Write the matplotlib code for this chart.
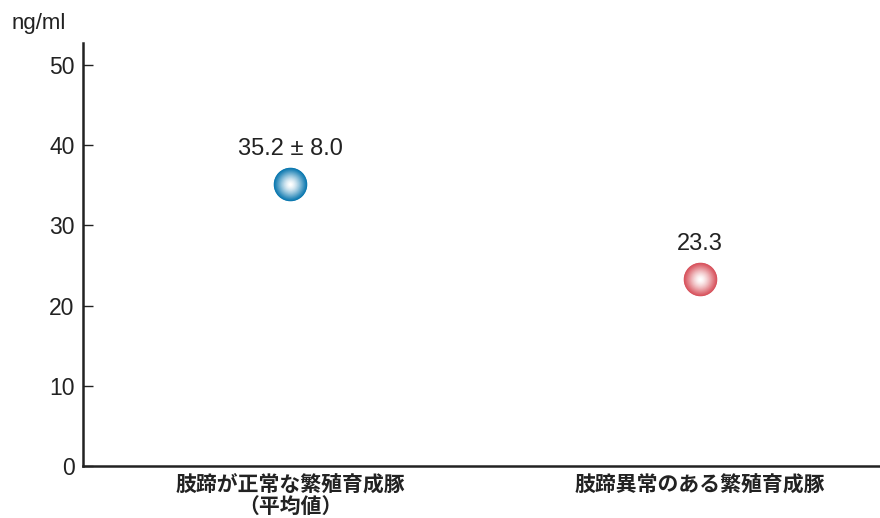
import matplotlib.pyplot as plt
import numpy as np
from matplotlib.colors import to_rgb

plt.rcParams['font.family'] = ['Liberation Sans', 'Noto Sans CJK JP', 'DejaVu Sans']

# データ
groups = ["肢蹄が正常な繁殖育成豚\n（平均値）", "肢蹄異常のある繁殖育成豚"]
values = [35.2, 23.3]
labels = ["35.2 ± 8.0", "23.3"]
edge_colors = ["#0a78b0", "#d8525c"]
yticks = [0, 10, 20, 30, 40, 50]

fig, ax = plt.subplots(figsize=(8.8, 5.18), dpi=100)
fig.subplots_adjust(left=0.094, right=0.999, bottom=0.10, top=0.917)

x = np.arange(len(groups))

# 球状のマーカー（同心円でグラデーション）
n = 30
for xi, v, c in zip(x, values, edge_colors):
    base = np.array(to_rgb(c))
    for k in range(n):
        t = k / (n - 1)
        size = 580 * (1 - t) ** 1.2 + 4
        col = base + (1 - base) * t ** 1.3
        ax.scatter(xi, v, s=size, color=col, linewidths=0, zorder=3 + k)

for xi, v, lab in zip(x, values, labels):
    ax.annotate(lab, (xi, v), xytext=(0, 25), textcoords='offset points',
                ha='center', va='center', fontsize=17, color='#222222')

ax.set_xlim(-0.507, 1.437)
ax.set_ylim(0, 52.7)
ax.set_yticks(yticks)
ax.set_xticks(x)
ax.set_xticklabels(groups, fontsize=15, fontweight='bold',
                   family=['Noto Sans CJK JP', 'DejaVu Sans'], linespacing=1.0)
ax.tick_params(axis='y', direction='in', length=7, width=1, labelsize=16.5,
               colors='#222222', pad=6)
ax.tick_params(axis='x', length=0, pad=6, colors='#222222')

for s in ['top', 'right']:
    ax.spines[s].set_visible(False)
for s in ['left', 'bottom']:
    ax.spines[s].set_linewidth(1.8)
    ax.spines[s].set_color('#222222')

fig.text(0.013, 0.955, "ng/ml", fontsize=16, color='#222222', ha='left', va='center')

fig.savefig("out.png", dpi=100)
